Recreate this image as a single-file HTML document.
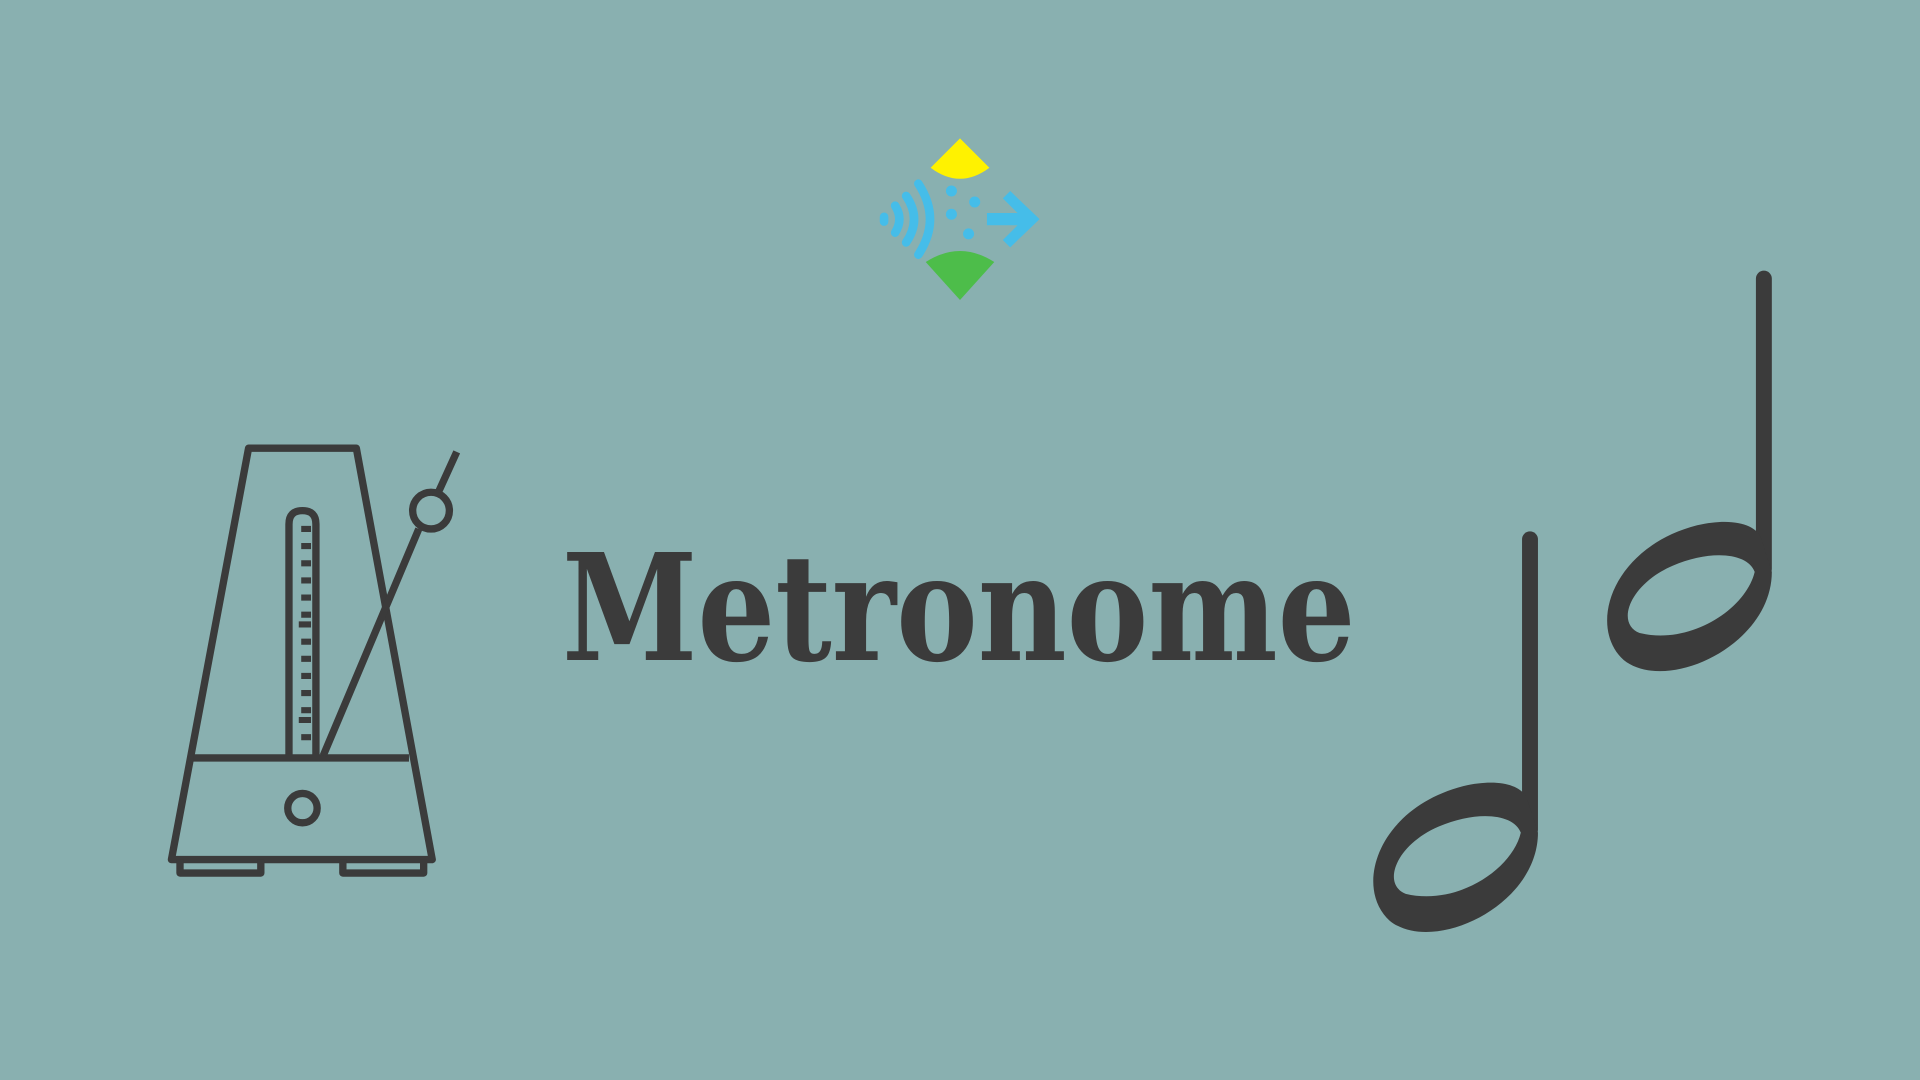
<!DOCTYPE html>
<html><head><meta charset="utf-8"><style>
html,body{margin:0;padding:0;width:1920px;height:1080px;overflow:hidden;background:#89b0b0}
svg{display:block}
</style></head><body>
<svg width="1920" height="1080" viewBox="0 0 1568 882">
<rect width="1568" height="882" fill="#89b0b0"/>
<g>
  <path d="M784,113 L808,137 Q784,155 760,137 Z" fill="#fff200"/>
  <path d="M756,214 Q784,196 812,214 L784,245 Z" fill="#4dbd4a"/>
  <g fill="none" stroke="#45bde9" stroke-width="7" stroke-linecap="round">
    <path d="M722,177 L722,181"/>
    <path d="M731,168 Q738,179 731,190"/>
    <path d="M740,160 Q753,179 740,198"/>
    <path d="M750,150 Q769,179 750,208"/>
  </g>
  <g fill="#45bde9">
    <circle cx="777" cy="156" r="4.5"/><circle cx="796" cy="165" r="4.5"/>
    <circle cx="777" cy="175" r="4.5"/><circle cx="791" cy="191" r="4.5"/>
    <path d="M825,156 L849,179 L825,202 L819,196 L831,184 L806,184 L806,174 L831,174 L819,162 Z"/>
  </g>
</g>
<g fill="none" stroke="#3b3b3b" stroke-width="6" stroke-linejoin="round">
  <path d="M203,366 L291,366 L353,702 L140,702 Z"/>
  <path d="M158,619 L334,619"/>
  <path d="M147,702 L147,713 L213,713 L213,702 M280,702 L280,713 L346,713 L346,702"/>
  <circle cx="247" cy="660" r="12"/>
  <path d="M236,617 L236,428 Q236,417 247,417 Q258,417 258,428 L258,617"/>
  <g stroke-width="5">
    <path d="M246,432 L254,432 M246,446 L254,446 M246,460 L254,460 M246,474 L254,474 M246,488 L254,488 M246,502 L254,502 M244,510 L254,510 M246,524 L254,524 M246,538 L254,538 M246,552 L254,552 M246,566 L254,566 M246,580 L254,580 M244,588 L254,588 M246,602 L254,602"/>
  </g>
  <path d="M264,617 L342,432 M358,402 L373,369"/>
  <circle cx="352" cy="417" r="15"/>
</g>
<text x="459" y="539" textLength="648" lengthAdjust="spacingAndGlyphs" font-family="'DejaVu Serif',serif" font-weight="bold" font-size="121" fill="#3b3b3b">Metronome</text>
<g fill="#3b3b3b">
  <rect x="1243" y="434" width="13" height="250" rx="6.5"/>
  <path fill-rule="evenodd" d="M1256,680 C1256,740 1170,780 1135,752 C1105,725 1125,660 1195,642 C1225,635 1243,642 1247,652 Z M1242,680 C1235,710 1190,740 1148,730 C1128,722 1140,690 1175,675 C1205,662 1236,664 1242,680 Z"/>
</g>
<g fill="#3b3b3b">
  <rect x="1434" y="221" width="13" height="250" rx="6.5"/>
  <path fill-rule="evenodd" d="M1447,467 C1447,527 1361,567 1326,539 C1296,512 1316,447 1386,429 C1416,422 1434,429 1438,439 Z M1433,467 C1426,497 1381,527 1339,517 C1319,509 1331,477 1366,462 C1396,449 1427,451 1433,467 Z"/>
</g>
</svg>
</body></html>
